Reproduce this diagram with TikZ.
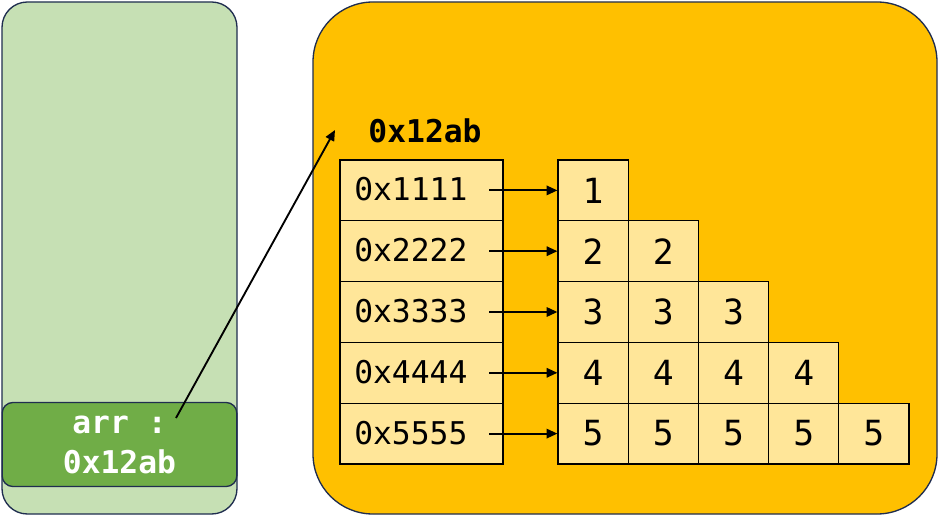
\documentclass[tikz,border=0pt]{standalone}
\usepackage{fontspec}
\setmonofont{DejaVu Sans Mono}
\usetikzlibrary{arrows.meta}
\definecolor{lg}{HTML}{C6E0B4}
\definecolor{dg}{HTML}{70AD47}
\definecolor{nv}{HTML}{1F2D4F}
\definecolor{og}{HTML}{FFC000}
\definecolor{ly}{HTML}{FFE699}
\begin{document}
\begin{tikzpicture}[x=0.75pt,y=-0.75pt,
 cell/.style={draw=black,fill=ly,line width=0.9pt},
 ptr/.style={-{Triangle[length=8pt,width=7pt]},line width=1.4pt}]
\useasboundingbox (0,0) rectangle (938,516);
\draw[fill=lg,draw=nv,line width=1pt,rounded corners=19pt] (2,2) rectangle (237,514);
\node[draw=nv,fill=dg,line width=1pt,rounded corners=8pt,minimum width=176pt,minimum height=63pt,inner sep=0,align=center,text=white,font=\ttfamily\bfseries\fontsize{23.5}{30}\selectfont] (arr) at (119.5,444.5) {arr :\\0x12ab};
\draw[fill=og,draw=nv,line width=1pt,rounded corners=45pt] (313,2) rectangle (937,514);
\node[font=\ttfamily\bfseries\fontsize{23.5}{26}\selectfont] (lbl) at (425,131) {0x12ab};
\coordinate (s) at (176,418);
\coordinate (t) at (335,130);
\draw[ptr] (s) -- (t);
\foreach \i/\a in {1/0x1111,2/0x2222,3/0x3333,4/0x4444,5/0x5555}{
  \pgfmathsetmacro{\yt}{160+(\i-1)*60.8}
  \pgfmathsetmacro{\yc}{\yt+30.4}
  \draw[cell] (340,\yt) rectangle (503,\yt+60.8);
  \node[anchor=west,inner sep=0,font=\ttfamily\fontsize{23.5}{26}\selectfont] (a\i) at (354,\yc-1) {\a};
  \coordinate (f\i) at (489,\yc);
  \foreach \j in {1,...,\i}{
    \pgfmathsetmacro{\xl}{558+(\j-1)*70.2}
    \node[cell,minimum width=52.65pt,minimum height=45.6pt,inner sep=0,font=\ttfamily\fontsize{26}{28}\selectfont] (c\i\j) at (\xl+35.1,\yc) {\i};
  }
  \draw[ptr] (f\i) -- (c\i1.west);
}
\end{tikzpicture}
\end{document}
